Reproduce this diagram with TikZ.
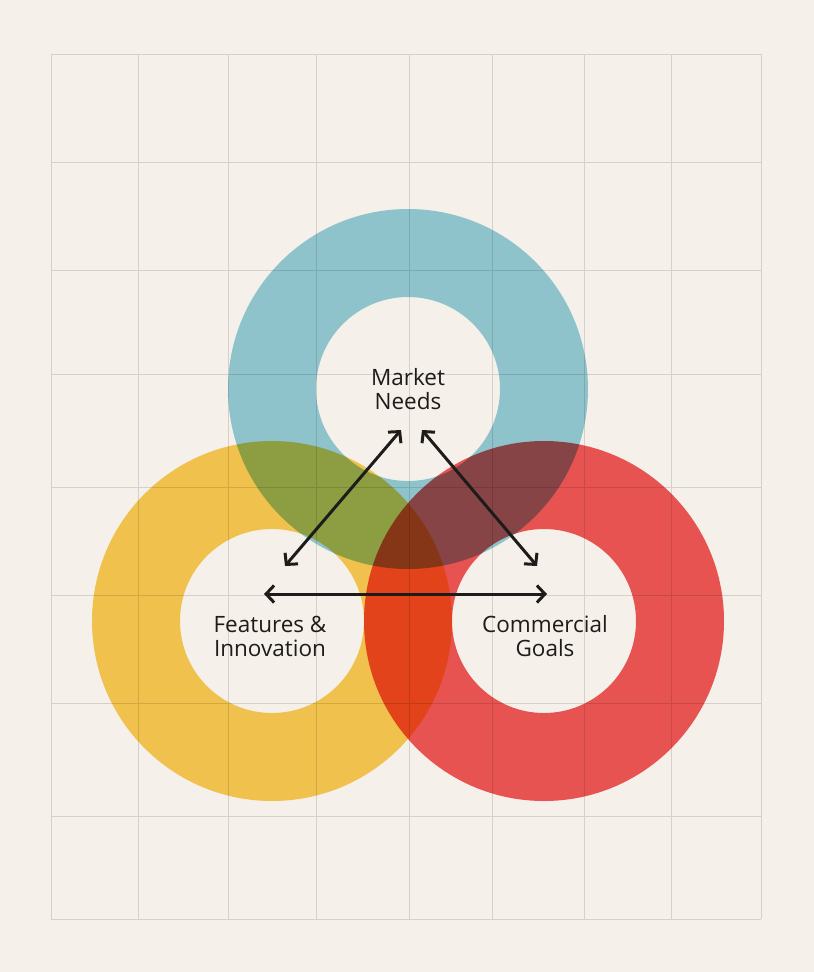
\documentclass[tikz,border=0pt]{standalone}
\usepackage{fontspec}
\setmainfont{Open Sans}
\usetikzlibrary{arrows.meta}

\definecolor{paper}{RGB}{245,240,234}
\definecolor{gridline}{RGB}{214,208,202}
\definecolor{needsblue}{RGB}{149,208,223}
\definecolor{featyellow}{RGB}{250,206,83}
\definecolor{goalred}{RGB}{241,89,89}
\definecolor{ink}{RGB}{30,28,26}

\begin{document}
\begin{tikzpicture}[x=1pt,y=-1pt,
  ring/.style={even odd rule, blend mode=multiply},
  ringtext/.style={font=\fontsize{22.5}{24}\selectfont, text=ink, align=center},
  link/.style={draw=ink, line width=3pt,
    {Straight Barb[length=8pt,width=17pt]}-{Straight Barb[length=8pt,width=17pt]}}]

\fill[paper] (0,0) rectangle (814,972);
\useasboundingbox (0,0) rectangle (814,972);

% grid
\foreach \x in {51,138,228,316,409,492,584,671,761}
  \draw[gridline, line width=1pt] (\x,54) -- (\x,919);
\foreach \y in {54,162,270,374,487,595,703,816,919}
  \draw[gridline, line width=1pt] (51,\y) -- (761,\y);

% rings
\fill[ring, needsblue] (408,389) circle (180pt) (408,389) circle (92pt);
\fill[ring, featyellow] (272,621) circle (180pt) (272,621) circle (92pt);
\fill[ring, goalred] (544,621) circle (180pt) (544,621) circle (92pt);

\node[ringtext] (needs) at (408,389) {Market\\Needs};
\node[ringtext] (features) at (270,636) {Features \&\\Innovation};
\node[ringtext] (goals) at (545,636) {Commercial\\Goals};

% arrows
\coordinate (needsL) at (401,430);
\coordinate (needsR) at (422,430);
\coordinate (featT) at (285,566);
\coordinate (featR) at (264,594);
\coordinate (goalT) at (537,566);
\coordinate (goalL) at (547,594);

\draw[link] (featT) -- (needsL);
\draw[link] (needsR) -- (goalT);
\draw[link] (featR) -- (goalL);
\end{tikzpicture}
\end{document}
